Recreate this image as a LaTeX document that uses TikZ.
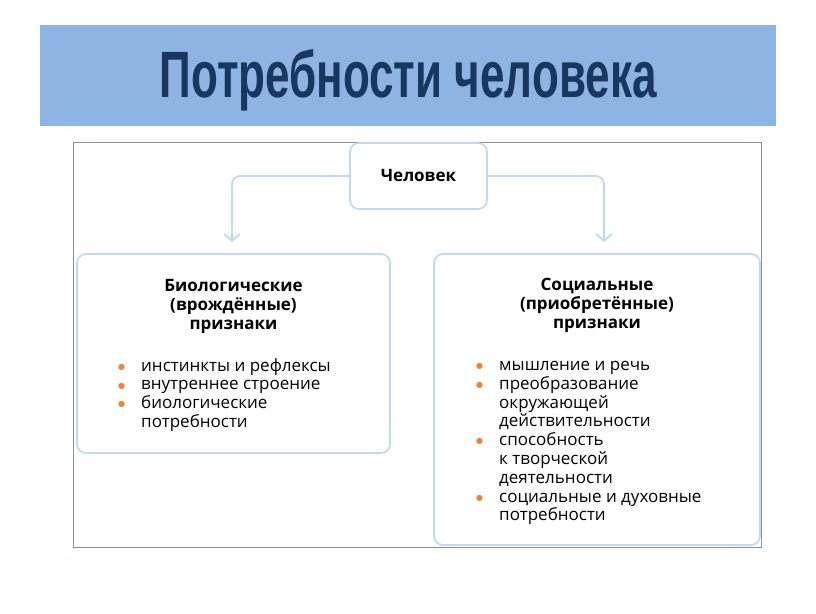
\documentclass[tikz,border=0pt]{standalone}
\usepackage{fontspec}
\setmainfont{Open Sans}
\newfontfamily\titlefont{Liberation Sans}
\newfontfamily\symfont{DejaVu Sans}
\usetikzlibrary{arrows.meta}

\definecolor{bandblue}{HTML}{8EB4E3}
\definecolor{titlenavy}{HTML}{17375E}
\definecolor{framegray}{HTML}{8493AB}
\definecolor{boxblue}{HTML}{BFD9F0}
\definecolor{bulorange}{HTML}{F07F3C}

\newcommand{\bul}{\makebox[0pt][r]{\raisebox{1.8pt}{\textcolor{bulorange}{\symfont\fontsize{8}{8}\selectfont ●}}\hspace{16pt}}}

\tikzset{
  box/.style={draw=boxblue, line width=1.7pt, rounded corners=9pt, inner sep=0pt},
  conn/.style={draw=boxblue, line width=1.7pt, rounded corners=8pt,
    -{Straight Barb[length=7pt,width=16pt,line width=1.7pt]}},
  head/.style={font=\bfseries\fontsize{17}{19}\selectfont, align=center, inner sep=0pt},
  items/.style={font=\fontsize{17}{18.8}\selectfont, align=left, inner sep=0pt, anchor=north west}
}

\begin{document}
\begin{tikzpicture}[x=1pt,y=-1pt]
\useasboundingbox (0,0) rectangle (816,613);
% Title band
\fill[bandblue] (40,25) rectangle (776,126);
\node[titlenavy, inner sep=0pt] (title) at (408,80)
  {\scalebox{0.88}[1.31]{\titlefont\bfseries\fontsize{50}{50}\selectfont Потребности человека}};
% Frame of the scheme
\draw[framegray, line width=0.9pt] (73,142) rectangle (761,547);
% Boxes
\node[box, minimum width=137pt, minimum height=66pt] (chel) at (418.5,176)
  {\bfseries\fontsize{17}{19}\selectfont Человек};
\node[box, minimum width=313pt, minimum height=199pt] (bio) at (233.5,353.5) {};
\node[box, minimum width=326pt, minimum height=291pt] (soc) at (597,399.5) {};
% Arrow ends
\coordinate (bioin) at (232,242);
\coordinate (socin) at (604,242);
\draw[conn] (chel.west) -| (bioin);
\draw[conn] (chel.east) -| (socin);
% Left box text
\node[head] (biohead) at (233.5,306) {Биологические\\(врождённые)\\признаки};
\node[items] (biolist) at (141,358)
  {\bul инстинкты и рефлексы\\
   \bul внутреннее строение\\
   \bul биологические\\
   потребности};
% Right box text
\node[head] (sochead) at (597,305) {Социальные\\(приобретённые)\\признаки};
\node[items] (soclist) at (499,361)
  {\bul мышление и речь\\
   \bul преобразование\\
   окружающей\\
   действительности\\
   \bul способность\\
   к творческой\\
   деятельности\\
   \bul социальные и духовные\\
   потребности};
\end{tikzpicture}
\end{document}
